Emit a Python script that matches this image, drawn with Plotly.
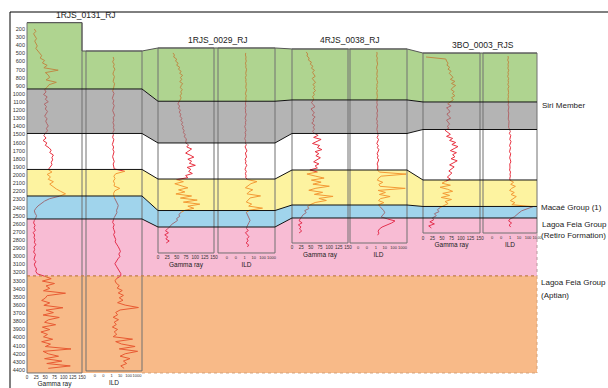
import numpy as np
import plotly.graph_objects as go

W, H = 608, 388
FONT = "Liberation Sans, Arial, sans-serif"

# ---------------- well data ----------------
well_names = ["1RJS_0131_RJ", "1RJS_0029_RJ", "4RJS_0038_RJ", "3BO_0003_RJS"]

# display depth (m) of track tops/bases and of the interval tops in each well
track_top = [122, 434, 446, 496]
ild_top_w1 = 471
track_base = [4437, 2959, 2836, 2713]
ild_base_w1 = 4412
top_gray = [939, 1090, 1074, 1099]      # base of upper (green) interval / Siri Member
top_white = [1487, 1604, 1487, 1438]
top_yellow = [1930, 2048, 1937, 2060]
top_blue = [2257, 2436, 2368, 2386]     # Macaé Group (1)
top_pink = [2540, 2639, 2528, 2528]     # Lagoa Feia Group (Retiro Formation)
top_aptian = 3242                       # Lagoa Feia Group (Aptian)
base_aptian = 4437

depth_ticks = list(range(200, 4401, 100))
gr_ticks = [0, 25, 50, 75, 100, 125, 150]
ild_ticks = [0.01, 0.1, 1, 10, 100, 1000]
ild_ticktext = ["0", "0", "1", "10", "100", "1000"]

# logged depth interval of each curve (m)
gr_interval = [(200, 4380), (495, 2836), (483, 2713), (545, 2651)]
ild_interval = [(545, 4380), (495, 2885), (483, 2740), (533, 2640)]

# Gamma ray (API)
gr_w1 = [20, 24, 18, 22, 26, 21, 25, 28, 24, 30,
         34, 40, 36, 48, 42, 55, 46, 85, 50, 58, 62, 52, 80, 60, 55,
         48, 52, 45, 55, 50, 58, 47, 53, 50, 56, 52, 48, 55, 51, 54, 58, 53, 56,
         50, 46, 52, 44, 54, 50, 60, 66, 62, 72, 68, 70, 66, 68, 62,
         58, 68, 55, 64, 58, 72, 62, 70, 80, 92, 105,
         88, 62, 48, 38, 30, 24, 20, 22, 26, 24,
         20, 18, 22, 19, 23, 17, 21, 19, 22, 20, 24, 19, 21, 18, 23, 21, 19, 24, 20, 22, 26, 24, 28,
         48, 66, 42, 75, 52, 62, 45, 105, 55, 50, 40, 62, 46, 98, 52, 72, 44, 88, 58, 48,
         78, 42, 62, 38, 56, 45, 70, 40, 64, 50, 120, 44, 58, 86, 48, 95, 54, 118, 58]
gr_w2 = [40, 44, 42, 50, 47, 54, 50, 58, 55, 62, 58, 66, 60, 64, 58, 66, 62, 60, 65, 61, 63, 59, 62, 60,
         56, 53, 58, 55, 60, 57, 61, 59, 64, 61, 66, 63, 68, 66, 70, 68, 73, 70, 76, 74,
         74, 82, 77, 90, 80, 74, 86, 96, 80, 90, 84, 100, 78, 88, 82, 92, 74, 80,
         50, 68, 45, 62, 80, 55, 72, 48, 90, 60, 105, 68, 112, 80, 96, 72,
         62, 56, 58, 50, 52, 42, 36, 32,
         26, 20, 28, 18, 26, 21, 30, 22]
gr_w3 = [38, 42, 40, 46, 44, 52, 49, 56, 52, 60, 55, 58, 62, 54, 58, 63, 56, 61, 58, 63, 57, 60, 55, 58,
         56, 52, 58, 61, 51, 56, 60, 54, 62, 56, 58, 53, 61, 57, 60, 55,
         60, 70, 58, 78, 66, 55, 74, 68, 80, 62, 72, 64, 76, 67, 58, 72, 62, 68,
         48, 68, 40, 62, 86, 52, 78, 56, 100, 64, 45, 82, 60, 110, 72, 92, 62,
         50, 42, 45, 34, 38, 30, 26,
         22, 19, 27, 17, 24, 20, 26, 19]
gr_w4 = [8, 60, 62, 66, 63, 70, 66, 74, 69, 73, 79, 72, 84, 75, 86, 78, 74, 82, 77, 84, 75, 80,
         72, 65, 74, 62, 68, 71, 63, 67, 73, 62, 66, 70, 64, 68,
         58, 66, 72, 62, 78, 70, 86, 76, 92, 82, 72, 88, 78, 84, 74, 90, 80, 70, 82, 74, 68, 76, 70, 64, 72,
         60, 50, 72, 45, 65, 78, 52, 70, 48, 75, 58, 66, 55,
         45, 38, 42, 30, 35, 25,
         28, 18, 30, 15, 22]

# Deep induction resistivity ILD (ohm.m)
ild_w1 = [1.5, 1.8, 1.3, 2.0, 1.6, 2.4, 1.7, 1.4, 2.1, 1.8, 1.5, 2.2, 1.7,
          1.6, 1.3, 1.9, 1.5, 1.2, 1.8, 1.4, 2.0, 1.6, 1.3, 1.7, 2.2, 1.5, 1.8, 1.4, 1.9, 1.6, 2.0,
          1.4, 1.6, 1.3, 1.8, 1.5, 1.2, 1.7, 1.4, 1.9, 1.5, 1.3, 1.6, 2.0, 1.5, 1.8,
          2.0, 35, 3.0, 1.8, 2.5, 1.6, 2.2, 1.9, 9.0, 2.4, 1.7,
          1.8, 2.2, 3.0, 4.5, 6.0, 5.0, 3.8, 4.2, 2.6, 2.0,
          1.6, 1.3, 2.0, 1.5, 1.8, 2.4, 1.7, 2.2, 3.0, 2.6, 4.5, 6.0, 8.5, 11, 7.0, 9.5, 5.5, 3.2, 2.4, 3.6, 5.0, 8.0, 12,
          12, 4.0, 2.5, 3.5, 8.0, 4.5, 18, 6.0, 25, 8.0, 22, 5.0, 40, 1500, 10, 3.0, 5.0, 1.5, 6.5, 2.0,
          3.5, 1.2, 5.0, 2.0, 4.0, 1.5, 300, 3.0, 15, 600, 8.0, 1200, 40, 10, 150, 25, 60, 12, 30]
ild_w2 = [1.3, 1.2, 1.4, 1.3, 1.5, 1.2, 1.4, 1.3, 1.6, 1.4, 1.3, 1.5, 1.2, 1.4, 1.3, 1.5, 1.4, 1.3, 1.6, 1.4, 1.2, 1.5, 1.3, 1.4,
          1.3, 1.2, 1.4, 1.1, 1.3, 1.2, 1.5, 1.3, 1.1, 1.4, 1.2, 1.3, 1.0, 1.2, 1.4, 1.1, 1.3, 1.2, 1.0, 1.3,
          1.2, 1.5, 1.1, 1.4, 1.8, 1.2, 1.3, 1.6, 1.1, 1.4, 1.2, 1.7, 1.3, 1.1, 1.5, 1.2, 1.4, 1.3,
          2.0, 24, 5.0, 2.5, 1.2, 8.0, 3.0, 1.8, 60, 4.0, 2.2, 1.5, 6.0, 2.8, 100, 3.5,
          1.5, 2.0, 2.5, 3.2, 4.0, 3.0, 2.2, 1.8,
          1.6, 2.5, 1.2, 2.0, 3.0, 1.8, 2.4, 1.4, 2.8, 2.0]
ild_w3 = [1.3, 1.4, 1.2, 1.5, 1.3, 1.4, 1.6, 1.3, 1.2, 1.5, 1.4, 1.3, 1.5, 1.2, 1.4, 1.6, 1.3, 1.4, 1.2, 1.5, 1.3, 1.4, 1.5, 1.3,
          1.4, 1.3, 1.5, 1.2, 1.4, 1.6, 1.3, 1.5, 1.4, 1.2, 1.5, 1.3, 1.6, 1.4, 1.3, 1.5,
          1.5, 1.8, 1.4, 2.0, 1.6, 1.3, 1.9, 1.5, 2.2, 1.6, 1.4, 1.8, 1.5, 2.1, 1.6, 1.4, 1.7, 1.5,
          1.6, 2.5, 2500, 4.0, 2.0, 1.5, 6.0, 2.2, 3.0, 2000, 1.8, 12, 2.5, 40, 3.5, 2.0, 8.0,
          2.0, 3.0, 5.0, 8.0, 10, 6.0, 4.0,
          20, 140, 60, 15, 5.0, 2.5, 1.8, 2.2, 1.6]
ild_w4 = [0.6, 0.65, 0.55, 0.7, 0.6, 0.65, 0.58, 0.72, 0.6, 0.66, 0.55, 0.7, 0.62, 0.68, 0.58, 0.75, 0.6, 0.66, 0.7, 0.62, 0.68, 0.6,
          0.65, 0.7, 0.6, 0.75, 0.68, 0.62, 0.72, 0.66, 0.7, 0.64, 0.78, 0.68, 0.72, 0.7,
          0.9, 1.1, 0.85, 1.2, 1.0, 0.95, 1.3, 1.0, 0.9, 1.15, 1.05, 0.88, 1.2, 1.0, 0.92, 1.1, 1.25, 0.95, 1.05, 1.0, 0.9, 1.15, 1.0, 1.1, 0.95,
          1.0, 2.5, 1.2, 4.0, 1.5, 0.9, 3.0, 1.3, 5.0, 2.0, 1.1, 3.5, 1.6,
          350, 80, 20, 10, 6.0, 3.0,
          1.0, 0.7, 1.5, 0.8, 1.2]

gr_logs = [gr_w1, gr_w2, gr_w3, gr_w4]
ild_logs = [ild_w1, ild_w2, ild_w3, ild_w4]

# ---------------- layout geometry (pixels) ----------------
TRACKS = [(27, 82, 86, 142), (158, 214, 218, 275), (292, 348, 350, 407), (423, 480, 483, 537)]
ILD_RANGE = [(-3.05, 3.6), (-3.0, 3.4), (-2.9, 3.5), (-3.0, 3.0)]
Y_RANGE = [4622, -157]

BAND_FILL = ["#afd490", "#b4b4b4", "#ffffff", "#fdf3a0", "#a0d4ec", "#f8bcd4", "#f8ba88"]
BAND_CURVE = ["#bf8a45", "#b0676a", "#e8303f", "#f39a35", "#9c6e78", "#e4304f", "#e85a32"]


def px(x):
    return x / W


def py(y):
    return 1 - y / H


def dpaper(d):
    return 1 - (d - Y_RANGE[1]) / (Y_RANGE[0] - Y_RANGE[1])


def band_of(w, d):
    edges = [top_gray[w], top_white[w], top_yellow[w], top_blue[w], top_pink[w], top_aptian]
    return np.searchsorted(edges, d, side="right")


def axis_id(n):
    return "x" if n == 1 else f"x{n}"


fig = go.Figure()


def add_log(w, vals, interval, n):
    v = np.asarray(vals, float)
    d = np.linspace(interval[0], interval[1], len(v))
    b = band_of(w, d)
    for k in np.unique(b):
        idx = np.where(b == k)[0]
        hi = min(idx[-1] + 2, len(d))
        fig.add_trace(go.Scatter(
            x=v[idx[0]:hi], y=d[idx[0]:hi], mode="lines",
            line=dict(color=BAND_CURVE[k], width=1),
            xaxis=axis_id(n), yaxis="y", hoverinfo="skip", showlegend=False))


for w in range(4):
    add_log(w, gr_logs[w], gr_interval[w], 2 * w + 1)
    add_log(w, ild_logs[w], ild_interval[w], 2 * w + 2)

# ---------------- correlation panels ----------------
shapes = []


def path(points, close=True):
    s = "M " + " L ".join(f"{px(x):.5f},{d}" for x, d in points)
    return s + (" Z" if close else "")


def boundary(tops):
    pts = []
    for w, (gL, gR, iL, iR) in enumerate(TRACKS):
        pts += [(gL, tops[w]), (iR, tops[w])]
    return pts


top_line = [(27, track_top[0]), (82, track_top[0]), (82, ild_top_w1), (142, ild_top_w1)]
for w in range(1, 4):
    gL, gR, iL, iR = TRACKS[w]
    top_line += [(gL, track_top[w]), (iR, track_top[w])]

lines = [top_line] + [boundary(t) for t in (top_gray, top_white, top_yellow, top_blue, top_pink)]
x_left, x_right = TRACKS[0][0], TRACKS[3][3]

for k in range(5):
    poly = lines[k] + lines[k + 1][::-1]
    shapes.append(dict(type="path", xref="paper", yref="y", path=path(poly),
                       fillcolor=BAND_FILL[k], line=dict(width=0), layer="below"))
pink_poly = lines[5] + [(x_right, top_aptian), (x_left, top_aptian)]
shapes.append(dict(type="path", xref="paper", yref="y", path=path(pink_poly),
                   fillcolor=BAND_FILL[5], line=dict(width=0), layer="below"))
shapes.append(dict(type="rect", xref="paper", yref="y", x0=px(x_left), x1=px(x_right),
                   y0=top_aptian, y1=base_aptian, fillcolor=BAND_FILL[6],
                   line=dict(width=0), layer="below"))

# track boxes
for w, (gL, gR, iL, iR) in enumerate(TRACKS):
    if w == 0:
        boxes = [(gL, gR, track_top[0], track_base[0]), (iL, iR, ild_top_w1, ild_base_w1)]
    else:
        boxes = [(gL, gR, track_top[w], track_base[w]), (iL, iR, track_top[w], track_base[w])]
    for x0, x1, y0, y1 in boxes:
        shapes.append(dict(type="rect", xref="paper", yref="y", x0=px(x0), x1=px(x1),
                           y0=y0, y1=y1, line=dict(color="#707070", width=1), layer="above"))

# correlation lines
shapes.append(dict(type="path", xref="paper", yref="y", path=path(top_line, False),
                   line=dict(color="#555555", width=1), layer="above"))
for ln in lines[1:]:
    shapes.append(dict(type="path", xref="paper", yref="y", path=path(ln, False),
                       line=dict(color="#111111", width=1), layer="above"))

# dotted limits of the Lagoa Feia intervals
shapes.append(dict(type="line", xref="paper", yref="y", x0=px(x_left), x1=px(x_right),
                   y0=top_aptian, y1=top_aptian, line=dict(color="#c07e4a", width=1.3, dash="dot"),
                   layer="above"))
shapes.append(dict(type="line", xref="paper", yref="y", x0=px(x_right), x1=px(x_right),
                   y0=track_base[3], y1=top_aptian, line=dict(color="#b89aa0", width=1, dash="dot"),
                   layer="above"))
shapes.append(dict(type="line", xref="paper", yref="y", x0=px(x_right), x1=px(x_right),
                   y0=top_aptian, y1=base_aptian, line=dict(color="#d4a27a", width=1, dash="dot"),
                   layer="above"))
shapes.append(dict(type="line", xref="paper", yref="y", x0=px(TRACKS[0][3]), x1=px(x_right),
                   y0=base_aptian, y1=base_aptian, line=dict(color="#d4a27a", width=1, dash="dot"),
                   layer="above"))

# frame
shapes.append(dict(type="line", xref="paper", yref="paper", x0=px(10), x1=1, y0=py(12), y1=py(12),
                   line=dict(color="#000000", width=1)))
shapes.append(dict(type="line", xref="paper", yref="paper", x0=px(10), x1=px(10), y0=py(12), y1=0,
                   line=dict(color="#000000", width=1)))

# ---------------- axes ----------------
layout = dict(
    width=W, height=H, margin=dict(l=0, r=0, t=0, b=0, pad=0),
    paper_bgcolor="white", plot_bgcolor="white", showlegend=False,
    font=dict(family=FONT, color="#333333"),
    shapes=shapes,
)
layout["yaxis"] = dict(domain=[0, 1], range=Y_RANGE, anchor="x", showgrid=False, zeroline=False,
                       showline=False, ticks="", tickvals=depth_ticks, ticklabelstandoff=1,
                       tickfont=dict(size=5.5, color="#333333"), automargin=False)

for w, (gL, gR, iL, iR) in enumerate(TRACKS):
    g_base = track_base[w]
    i_base = ild_base_w1 if w == 0 else track_base[w]
    common = dict(anchor="free", showgrid=False, zeroline=False, showline=False, ticks="",
                  automargin=False, ticklabelstandoff=1, tickangle=0)
    gkey = "xaxis" if w == 0 else f"xaxis{2 * w + 1}"
    layout[gkey] = dict(common, domain=[px(gL), px(gR)], range=[0, 150], tickvals=gr_ticks,
                        position=dpaper(g_base), tickfont=dict(size=4.5, color="#333333"),
                        title=dict(text="Gamma ray", font=dict(size=6.5, color="#222222"), standoff=2))
    layout[f"xaxis{2 * w + 2}"] = dict(common, domain=[px(iL), px(iR)], type="log",
                                       range=list(ILD_RANGE[w]), tickvals=ild_ticks,
                                       ticktext=ild_ticktext, position=dpaper(i_base),
                                       tickfont=dict(size=4, color="#333333"),
                                       title=dict(text="ILD", font=dict(size=6.5, color="#222222"),
                                                  standoff=3))

# ---------------- labels ----------------
ann = []
title_pos = [(86, 15), (218, 40), (350, 40), (483, 45)]
for name, (x, y) in zip(well_names, title_pos):
    ann.append(dict(text=name, x=px(x), y=py(y), xref="paper", yref="paper", showarrow=False,
                    xanchor="center", yanchor="middle", font=dict(size=8.5, color="#222222")))

side_labels = [("Siri Member", 540, 105.5), ("Macaé Group (1)", 539, 207),
               ("Lagoa Feia Group", 540, 224.5), ("(Retiro Formation)", 539, 235.5),
               ("Lagoa Feia Group", 539, 282.5), ("(Aptian)", 539, 295.5)]
for text, x, y in side_labels:
    ann.append(dict(text=text, x=px(x), y=py(y), xref="paper", yref="paper", showarrow=False,
                    xanchor="left", yanchor="middle", font=dict(size=8, color="#222222")))
layout["annotations"] = ann

fig.update_layout(**layout)
fig.write_html("out.html")
